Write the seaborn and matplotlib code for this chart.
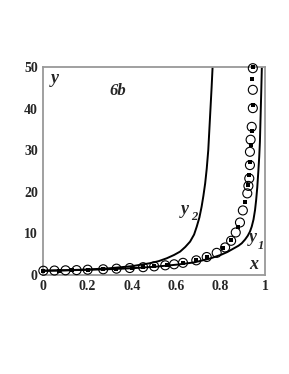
import numpy as np
import pandas as pd
import seaborn as sns
import matplotlib.pyplot as plt

# curves
y1_x = [0, 0.1, 0.2, 0.3, 0.4, 0.5, 0.6, 0.68, 0.75, 0.8, 0.83, 0.86, 0.88, 0.895,
        0.91, 0.922, 0.932, 0.94, 0.948, 0.955, 0.96, 0.965, 0.97, 0.974, 0.977,
        0.98, 0.983, 0.986]
y1_y = [1, 1.1, 1.22, 1.38, 1.6, 1.95, 2.45, 3.0, 3.9, 4.8, 5.5, 6.4, 7.0, 7.6,
        8.5, 9.4, 10.4, 11.6, 13.3, 15.6, 18, 21, 25, 28.5, 32, 38, 44, 50.5]

y2_x = [0, 0.1, 0.2, 0.3, 0.4, 0.48, 0.52, 0.557, 0.59, 0.617, 0.64, 0.662, 0.68,
        0.692, 0.704, 0.714, 0.722, 0.73, 0.737, 0.744, 0.749, 0.754, 0.759, 0.764]
y2_y = [1, 1.12, 1.3, 1.6, 2.1, 2.8, 3.3, 4.0, 4.8, 5.6, 6.7, 8, 9.7, 11.6, 13.8,
        16.4, 19, 22, 25.5, 30, 35, 40, 45, 50.5]

# open circles
circ_x = [0, 0.05, 0.10, 0.15, 0.20, 0.27, 0.33, 0.39, 0.45, 0.50, 0.55, 0.59, 0.63,
          0.69, 0.737, 0.782, 0.82, 0.847, 0.868, 0.887, 0.90, 0.92, 0.925, 0.929,
          0.932, 0.932, 0.935, 0.94, 0.945, 0.945, 0.945]
circ_y = [1.0, 1.05, 1.1, 1.15, 1.25, 1.35, 1.5, 1.65, 1.85, 2.05, 2.3, 2.55, 2.9,
          3.5, 4.3, 5.3, 6.6, 8.2, 10.2, 12.6, 15.5, 19.6, 21.4, 23.2, 26.4, 29.6,
          32.5, 35.6, 40.1, 44.5, 49.7]

# small black squares
sq_x = [0, 0.07, 0.13, 0.2, 0.27, 0.33, 0.4, 0.45, 0.5, 0.56, 0.63, 0.69, 0.74,
        0.809, 0.847, 0.877, 0.911, 0.925, 0.929, 0.932, 0.935, 0.94, 0.945, 0.943,
        0.947]
sq_y = [1.0, 1.05, 1.12, 1.25, 1.35, 1.5, 1.65, 1.85, 2.05, 2.35, 2.9, 3.5, 4.3,
        6.4, 8.4, 11.6, 17.6, 21.6, 24.0, 27.2, 31.3, 34.6, 40.9, 47.1, 50.0]

sns.set_style('white')
plt.rcParams['font.family'] = ['Liberation Serif', 'DejaVu Serif']

fig = plt.figure(figsize=(2.89, 3.74), dpi=100)
ax = fig.add_axes([0.15, 0.265, 0.767, 0.556])

sns.lineplot(x=y1_x, y=y1_y, sort=False, color='black', lw=1.4, ax=ax)
sns.lineplot(x=y2_x, y=y2_y, sort=False, color='black', lw=1.4, ax=ax)
sns.scatterplot(x=sq_x, y=sq_y, marker='s', s=8, color='black', linewidth=0, ax=ax,
                zorder=4, clip_on=False)
sns.scatterplot(x=circ_x, y=circ_y, marker='o', s=42, facecolors='none',
                edgecolor='black', linewidth=0.8, ax=ax, zorder=5, clip_on=False)

ax.set_xlim(0, 1)
ax.set_ylim(0, 50)
ax.set_xticks([0, 0.2, 0.4, 0.6, 0.8, 1])
ax.set_xticklabels(['0', '0.2', '0.4', '0.6', '0.8', '1'])
ax.set_yticks([0, 10, 20, 30, 40, 50])
for sp in ax.spines.values():
    sp.set_color('#999999')
    sp.set_linewidth(1.3)
ax.tick_params(direction='out', length=3, width=0.8, color='#555555',
               labelsize=10, pad=1)
for lab in ax.get_xticklabels() + ax.get_yticklabels():
    lab.set_fontweight('bold')

txt = dict(fontweight='bold', fontstyle='italic', ha='left', va='center',
           transform=ax.transData)
ax.text(0.035, 47.3, 'y', fontsize=13, **txt)
ax.text(0.3, 44.3, '6b', fontsize=12, **txt)
ax.text(0.62, 15.8, 'y', fontsize=13, **txt)
ax.text(0.668, 13.8, '2', fontsize=9, **txt)
ax.text(0.925, 9.0, 'y', fontsize=13, **txt)
ax.text(0.968, 7.0, '1', fontsize=9, **txt)
ax.text(0.93, 2.6, 'x', fontsize=13, **txt)

fig.savefig('out.png', dpi=100)
